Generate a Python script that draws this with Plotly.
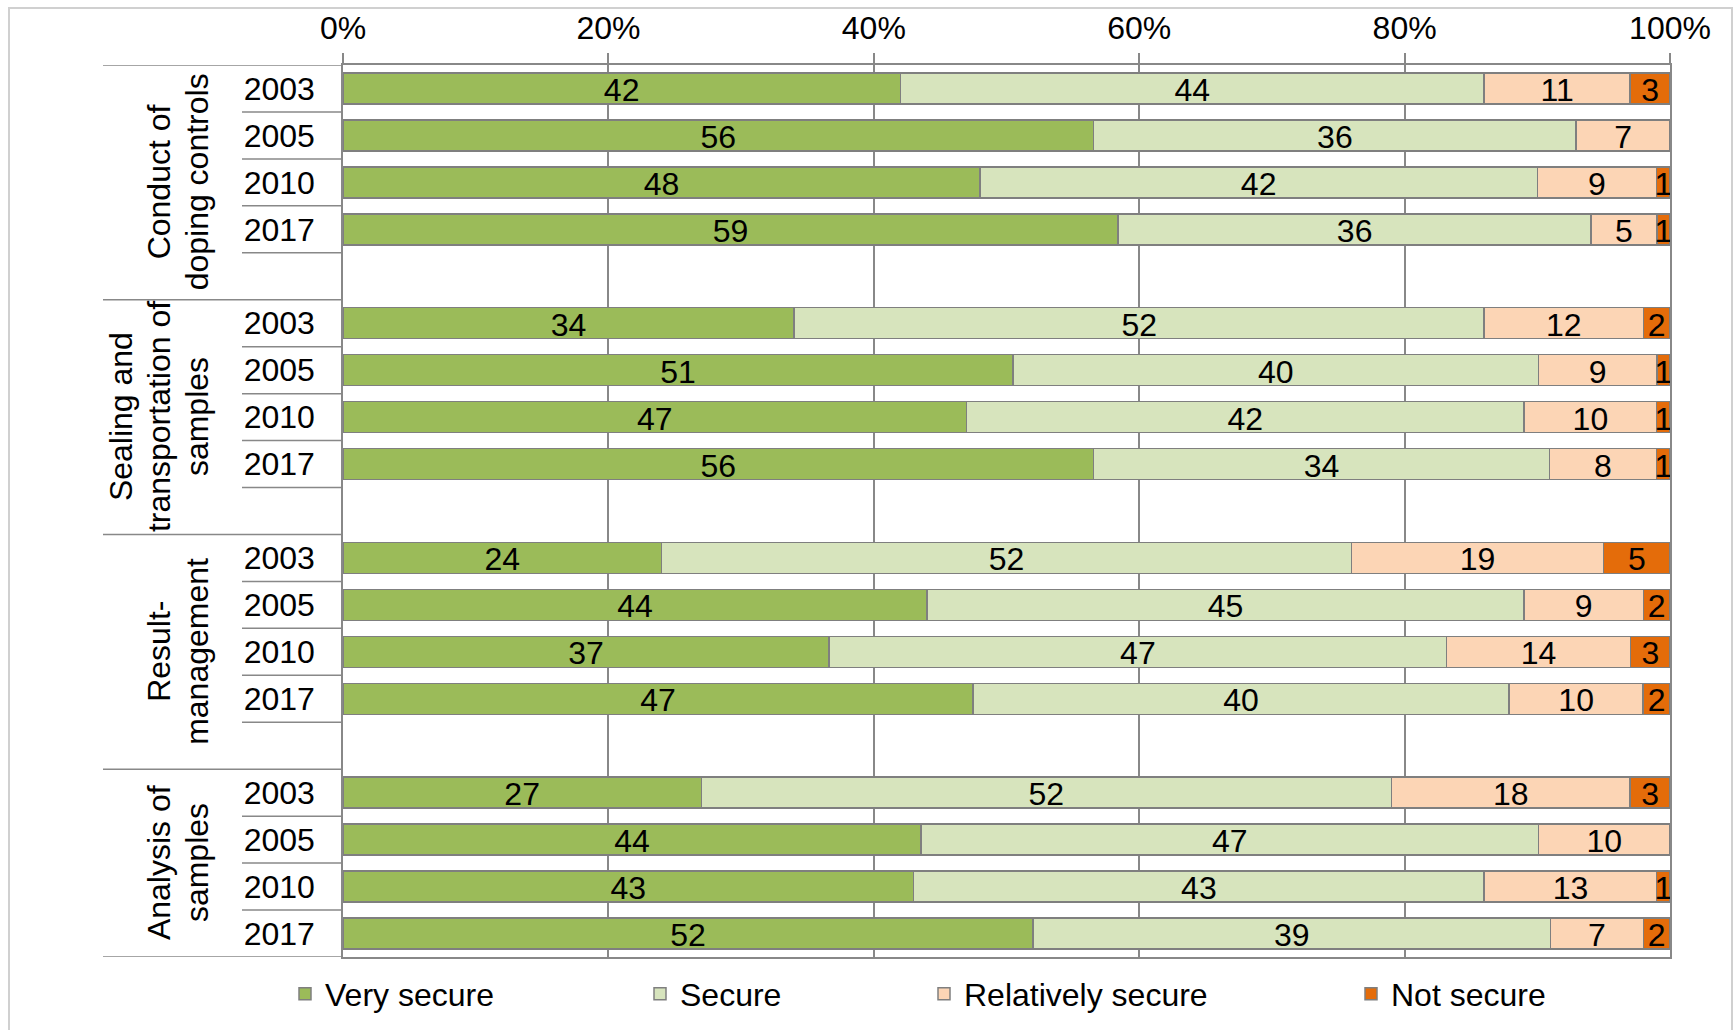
import plotly.graph_objects as go

# --- data -----------------------------------------------------------------
group_lines = [
    ["Conduct of", "doping controls"],
    ["Sealing and", "transportation of", "samples"],
    ["Result-", "management"],
    ["Analysis of", "samples"],
]
years = ["2003", "2005", "2010", "2017"]

series = ["Very secure", "Secure", "Relatively secure", "Not secure"]
# one value per (group, year), groups in the order above
very_secure = [42, 56, 48, 59, 34, 51, 47, 56, 24, 44, 37, 47, 27, 44, 43, 52]
secure = [44, 36, 42, 36, 52, 40, 42, 34, 52, 45, 47, 40, 52, 47, 43, 39]
relatively_secure = [11, 7, 9, 5, 12, 9, 10, 8, 19, 9, 14, 10, 18, 10, 13, 7]
not_secure = [3, 0, 1, 1, 2, 1, 1, 1, 5, 2, 3, 2, 3, 0, 1, 2]
values = [very_secure, secure, relatively_secure, not_secure]
colors = ["#9BBB59", "#D7E4BD", "#FCD5B5", "#E46C0A"]

# --- geometry ---------------------------------------------------------------
W, H = 1735, 1030
L, R, T, B = 343, 65, 65, 73
FONT = "Liberation Sans, Arial, sans-serif"
FS = 32
GRID = "#888888"


def px_x(p):
    return (p - L) / (W - L - R)


def px_y(p):
    return (H - B - p) / (H - T - B)


rows_per_group = len(years) + 1          # blank spacer row after each group
n_slots = rows_per_group * len(group_lines) - 1
slot_px = (H - T - B) / n_slots
y_pos = [g * rows_per_group + i for g in range(len(group_lines)) for i in range(len(years))]

fig = go.Figure()
for k, (name, vals, col) in enumerate(zip(series, values, colors)):
    fig.add_trace(go.Bar(
        y=y_pos,
        x=[v if v else None for v in vals],
        orientation="h",
        name=name,
        marker=dict(color=col, line=dict(color="#7F7F7F", width=1.5)),
        textposition="none",
        legend="legend" if k == 0 else f"legend{k + 1}",
        hoverinfo="skip",
    ))

# value labels, centred in each segment of the 100 % stacked bars
text_drop = 4.5 / slot_px   # nudge text so digits sit on the bar's centre line
label_x, label_y, label_t = [], [], []
for r, yv in enumerate(y_pos):
    row = [vals[r] for vals in values]
    total = sum(row)
    start = 0
    for v in row:
        if v:
            label_x.append((start + v / 2) / total * 100)
            label_y.append(yv + text_drop)
            label_t.append(str(v))
        start += v
fig.add_trace(go.Scatter(
    x=label_x, y=label_y, text=label_t, mode="text",
    textposition="middle center", cliponaxis=False,
    textfont=dict(size=FS, color="black", family=FONT),
    showlegend=False, hoverinfo="skip",
))

# --- category axis dividers -------------------------------------------------
long_y = [g * rows_per_group - 0.5 for g in range(len(group_lines))] + [n_slots - 0.5]
short_y = [b - 0.5 for b in range(1, n_slots) if (b - 0.5) not in long_y]
shapes = []
for yv in long_y:
    shapes.append(dict(type="line", xref="paper", yref="y", x0=px_x(103), x1=0,
                       y0=yv, y1=yv, line=dict(color=GRID, width=1.5)))
for yv in short_y:
    shapes.append(dict(type="line", xref="paper", yref="y", x0=px_x(242), x1=0,
                       y0=yv, y1=yv, line=dict(color=GRID, width=1.5)))
# chart frame
shapes.append(dict(type="rect", xref="paper", yref="paper",
                   x0=px_x(9), x1=px_x(1732), y0=px_y(1045), y1=px_y(8),
                   line=dict(color="#D0D0D0", width=2), fillcolor="rgba(0,0,0,0)"))

# --- group labels (rotated, one annotation per line) -------------------------
annotations = []
for g, lines in enumerate(group_lines):
    first = g * rows_per_group
    last = min(first + rows_per_group - 1, n_slots - 1)
    yc = (first - 0.5 + last + 0.5) / 2
    n = len(lines)
    for j, line in enumerate(lines):
        xc = 197 - (n - 1 - j) * 38
        annotations.append(dict(
            text=line, textangle=-90, xref="paper", yref="y",
            x=px_x(xc), y=yc, xanchor="center", yanchor="middle",
            showarrow=False, font=dict(size=FS, color="black", family=FONT),
        ))

# --- legends: one per series, spaced along the bottom -----------------------
legend_left = [285, 640, 924, 1351]
legend_common = dict(orientation="h", yanchor="middle", y=px_y(994), xanchor="left",
                     font=dict(size=FS, color="black", family=FONT),
                     bgcolor="rgba(0,0,0,0)", borderwidth=0, itemclick=False)
legends = {}
for k, lx in enumerate(legend_left):
    key = "legend" if k == 0 else f"legend{k + 1}"
    legends[key] = dict(legend_common, x=px_x(lx))

fig.update_layout(
    width=W, height=H,
    margin=dict(l=L, r=R, t=T, b=B, autoexpand=False),
    paper_bgcolor="white", plot_bgcolor="white",
    barmode="stack", barnorm="percent", bargap=0.34,
    font=dict(family=FONT, size=FS, color="black"),
    shapes=shapes, annotations=annotations,
    showlegend=True,
    **legends,
)
fig.update_xaxes(
    side="top", range=[0, 100], tick0=0, dtick=20, ticksuffix="%",
    showgrid=True, gridcolor=GRID, gridwidth=1.5,
    ticks="outside", ticklen=10, tickwidth=1.5, tickcolor=GRID,
    showline=True, linecolor=GRID, linewidth=1.5, mirror=True,
    zeroline=False, ticklabelstandoff=1,
    tickfont=dict(size=FS, color="black", family=FONT),
)
fig.update_yaxes(
    range=[n_slots - 0.5, -0.5],
    tickmode="array", tickvals=y_pos, ticktext=years * len(group_lines),
    showgrid=False, zeroline=False, ticks="",
    showline=True, linecolor=GRID, linewidth=1.5, mirror=True,
    ticklabelstandoff=20,
    tickfont=dict(size=FS, color="black", family=FONT),
)

fig.write_html("out.html")
